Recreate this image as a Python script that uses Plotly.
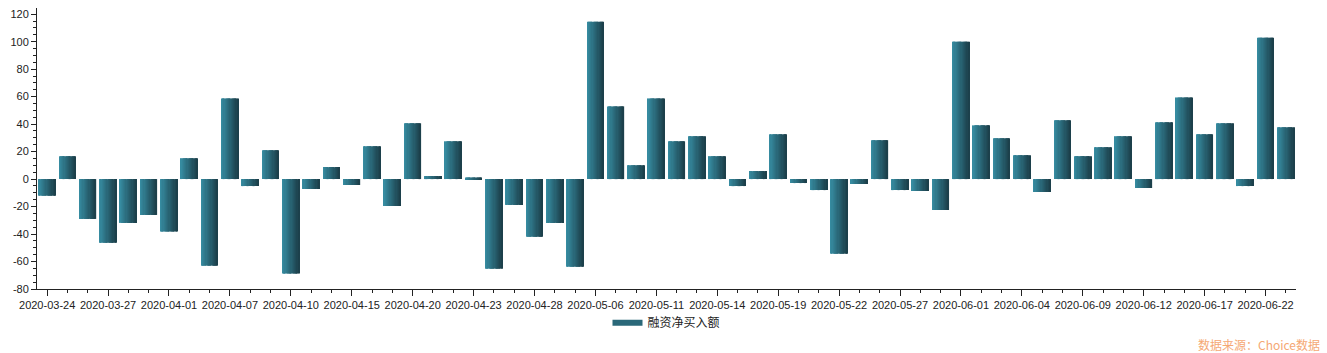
import plotly.graph_objects as go

dates = ["2020-03-24","2020-03-25","2020-03-26","2020-03-27","2020-03-30","2020-03-31",
         "2020-04-01","2020-04-02","2020-04-03","2020-04-07","2020-04-08","2020-04-09",
         "2020-04-10","2020-04-13","2020-04-14","2020-04-15","2020-04-16","2020-04-17",
         "2020-04-20","2020-04-21","2020-04-22","2020-04-23","2020-04-24","2020-04-27",
         "2020-04-28","2020-04-29","2020-04-30","2020-05-06","2020-05-07","2020-05-08",
         "2020-05-11","2020-05-12","2020-05-13","2020-05-14","2020-05-15","2020-05-18",
         "2020-05-19","2020-05-20","2020-05-21","2020-05-22","2020-05-25","2020-05-26",
         "2020-05-27","2020-05-28","2020-05-29","2020-06-01","2020-06-02","2020-06-03",
         "2020-06-04","2020-06-05","2020-06-08","2020-06-09","2020-06-10","2020-06-11",
         "2020-06-12","2020-06-15","2020-06-16","2020-06-17","2020-06-18","2020-06-19",
         "2020-06-22","2020-06-23"]

net_buy = [-12.1, 16.7, -29.0, -46.4, -31.9, -26.1,
           -38.2, 15.2, -63.0, 58.7, -5.1, 21.0,
           -68.8, -7.2, 8.7, -4.3, 23.9, -19.6,
           40.6, 2.2, 27.5, 1.2, -65.2, -18.8,
           -42.0, -31.9, -63.8, 114.5, 52.9, 10.1,
           58.7, 27.5, 31.2, 16.7, -5.1, 5.8,
           32.6, -2.9, -8.0, -54.3, -3.6, 28.3,
           -8.0, -8.7, -22.5, 100.0, 39.1, 29.7,
           17.4, -9.4, 42.8, 16.7, 23.2, 31.2,
           -6.5, 41.3, 59.4, 32.6, 40.6, -5.1,
           102.9, 37.7]

series_name = "融资净买入额"
y_tick_vals = [-80, -60, -40, -20, 0, 20, 40, 60, 80, 100, 120]
y_tick_text = ["-80", "-60", "-40", "-20", "0", "20", "40", "60", "80", "100", "120"]

x_idx = list(range(len(dates)))
x_tick_vals = x_idx[::3]
x_tick_text = dates[::3]

# gradient simulated by vertical strips
c_left = (0x36, 0x8b, 0xa0)
c_right = (0x1c, 0x40, 0x4b)
K = 14
bw = 0.83

fig = go.Figure()
for k in range(K):
    t = k / (K - 1)
    col = tuple(round(c_left[i] + (c_right[i] - c_left[i]) * t) for i in range(3))
    w = bw / K
    fig.add_trace(go.Bar(
        x=x_idx, y=net_buy,
        width=w * (1.25 if k < K - 1 else 1.0),
        offset=-bw / 2 + k * w,
        marker=dict(color="rgb(%d,%d,%d)" % col, line=dict(width=0)),
        showlegend=False, hoverinfo="skip",
    ))

fig.add_trace(go.Scatter(
    x=[None], y=[None], mode="lines", name=series_name,
    line=dict(color="#2a6879", width=6), showlegend=True,
))

fig.update_layout(
    width=1327, height=353,
    margin=dict(l=37, r=31, t=8, b=64),
    paper_bgcolor="white", plot_bgcolor="white",
    barmode="overlay",
    font=dict(family="Liberation Sans, Arial, sans-serif", size=11, color="#222"),
    legend=dict(orientation="h", x=0.5, xanchor="center", y=-0.12, yanchor="middle",
                font=dict(family="Noto Sans CJK SC, sans-serif", size=12, color="#222"),
                itemwidth=30, bgcolor="rgba(0,0,0,0)"),
    xaxis=dict(range=[-0.5, len(dates) - 0.5], showgrid=False, zeroline=False,
               showline=True, linecolor="#222", linewidth=1,
               tickmode="array", tickvals=x_tick_vals, ticktext=x_tick_text,
               ticks="outside", ticklen=6, tickcolor="#222", tickangle=0,
               tickfont=dict(size=11, color="#222"),
               minor=dict(dtick=1, tick0=0, ticks="outside", ticklen=3, tickcolor="#222", showgrid=False)),
    yaxis=dict(range=[-80, 124.5], showgrid=False, zeroline=False,
               showline=True, linecolor="#222", linewidth=1,
               tickmode="array", tickvals=y_tick_vals, ticktext=y_tick_text,
               ticks="outside", ticklen=5, tickcolor="#222",
               tickfont=dict(size=11, color="#222"),
               minor=dict(dtick=5, tick0=0, ticks="outside", ticklen=3, tickcolor="#222", showgrid=False)),
    annotations=[dict(text="数据来源：Choice数据", xref="paper", yref="paper",
                      x=1.0206, y=-0.199, xanchor="right", yanchor="middle", showarrow=False,
                      font=dict(family="Noto Sans CJK SC, sans-serif", size=12, color="#f5a874"))],
)

fig.write_html("out.html")
